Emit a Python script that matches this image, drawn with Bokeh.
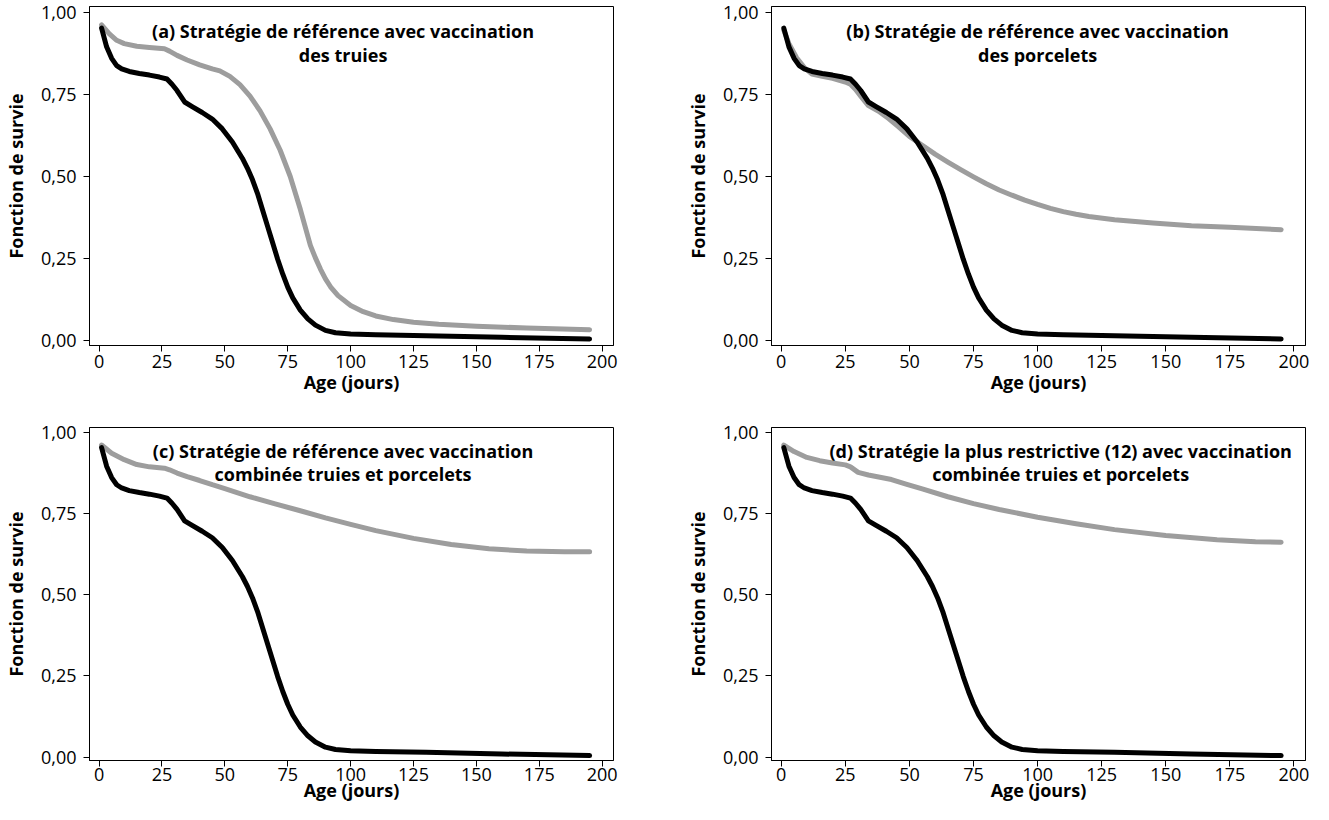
from bokeh.plotting import figure
from bokeh.layouts import column, row
from bokeh.models import FixedTicker, Range1d
from bokeh.core.properties import value
from bokeh.embed import file_html
from bokeh.resources import INLINE

# ---- data ----
# reference strategy without vaccination (black, identical in all panels)
age_ref = [1, 3, 5, 7, 9, 12, 16, 20, 24, 27, 29, 31, 34, 37, 41, 45, 49, 53, 57,
           59, 61, 63, 65, 67, 69, 71, 73, 75, 77, 80, 83, 86, 90, 94, 100, 110,
           130, 160, 195]
surv_ref = [0.952, 0.895, 0.860, 0.838, 0.828, 0.820, 0.814, 0.809, 0.803, 0.797,
            0.781, 0.762, 0.727, 0.713, 0.695, 0.675, 0.645, 0.605, 0.555,
            0.525, 0.490, 0.448, 0.398, 0.348, 0.298, 0.248, 0.203, 0.163, 0.130,
            0.093, 0.066, 0.047, 0.031, 0.024, 0.020, 0.018, 0.015, 0.010, 0.005]

# (a) vaccination des truies
age_a = [1, 4, 7, 10, 15, 20, 26, 28, 31, 35, 40, 45, 48, 52, 56, 60, 64, 68, 72,
         76, 80, 84, 86, 88, 90, 92, 95, 100, 105, 110, 117, 125, 135, 150, 170, 195]
surv_a = [0.962, 0.935, 0.915, 0.905, 0.897, 0.893, 0.889, 0.882, 0.869, 0.855,
          0.840, 0.828, 0.822, 0.805, 0.780, 0.745, 0.700, 0.645, 0.580, 0.500,
          0.400, 0.290, 0.252, 0.218, 0.188, 0.164, 0.137, 0.107, 0.088, 0.075,
          0.064, 0.056, 0.050, 0.044, 0.038, 0.033]

# (b) vaccination des porcelets
age_b = [1, 3, 6, 9, 12, 16, 20, 25, 27, 29, 31, 34, 38, 42, 46, 50, 55, 60, 65,
         70, 75, 80, 85, 90, 95, 100, 105, 110, 115, 120, 130, 145, 160, 175, 195]
surv_b = [0.946, 0.905, 0.862, 0.832, 0.812, 0.805, 0.799, 0.788, 0.781, 0.765,
          0.745, 0.716, 0.699, 0.676, 0.650, 0.622, 0.595, 0.568, 0.544, 0.521,
          0.499, 0.478, 0.459, 0.443, 0.428, 0.415, 0.403, 0.393, 0.385, 0.378,
          0.368, 0.358, 0.350, 0.345, 0.338]

# (c) vaccination combinée, stratégie de référence
age_c = [1, 5, 10, 15, 20, 26, 28, 31, 35, 40, 45, 50, 60, 70, 80, 90, 100, 110,
         125, 140, 155, 170, 185, 195]
surv_c = [0.960, 0.935, 0.915, 0.900, 0.893, 0.889, 0.884, 0.874, 0.863, 0.851,
          0.838, 0.826, 0.801, 0.779, 0.758, 0.736, 0.716, 0.697, 0.673, 0.654,
          0.641, 0.634, 0.632, 0.632]

# (d) vaccination combinée, stratégie la plus restrictive
age_d = [1, 5, 10, 15, 20, 25, 27, 30, 34, 38, 43, 49, 55, 65, 75, 85, 100, 115,
         130, 150, 170, 185, 195]
surv_d = [0.960, 0.940, 0.922, 0.912, 0.905, 0.899, 0.893, 0.876, 0.868, 0.862,
          0.854, 0.839, 0.825, 0.801, 0.780, 0.762, 0.738, 0.718, 0.700, 0.682,
          0.669, 0.663, 0.661]

titles = [
    ("(a) Stratégie de référence avec vaccination", "des truies"),
    ("(b) Stratégie de référence avec vaccination", "des porcelets"),
    ("(c) Stratégie de référence avec vaccination", "combinée truies et porcelets"),
    ("(d) Stratégie la plus restrictive (12) avec vaccination", "combinée truies et porcelets"),
]
title_x = [97, 100, 97, 109]

x_ticks = [0, 25, 50, 75, 100, 125, 150, 175, 200]
y_ticks = [0, 0.25, 0.5, 0.75, 1.0]
y_tick_labels = ["0,00", "0,25", "0,50", "0,75", "1,00"]
x_label = "Age (jours)"
y_label = "Fonction de survie"

FONT = "Open Sans"
GREY = "#9d9d9d"


def panel(age_v, surv_v, title, tx, width, height, mb_left, mb_right, mb_top,
          mb_bottom, yr, x_std, x_lab_std):
    p = figure(width=width, height=height, output_backend="svg",
               toolbar_location=None, tools="",
               x_range=Range1d(-3.8, 204.5), y_range=Range1d(*yr),
               min_border_left=mb_left, min_border_right=mb_right,
               min_border_top=mb_top, min_border_bottom=mb_bottom)
    p.background_fill_color = "white"
    p.border_fill_color = "white"
    p.outline_line_color = "black"
    p.outline_line_width = 1
    p.xgrid.visible = False
    p.ygrid.visible = False

    p.line(age_v, surv_v, line_color=GREY, line_width=5, line_cap="round",
           line_join="round")
    p.line(age_ref, surv_ref, line_color="black", line_width=5, line_cap="round",
           line_join="round")

    p.text(x=[tx, tx], y=[0.942, 0.870], text=list(title),
           text_font=value(FONT), text_font_style="bold", text_font_size="18px",
           text_align="center", text_baseline="alphabetic", text_color="black")

    xa = p.xaxis[0]
    xa.ticker = FixedTicker(ticks=x_ticks)
    xa.axis_label = x_label
    ya = p.yaxis[0]
    ya.ticker = FixedTicker(ticks=y_ticks)
    ya.major_label_overrides = {t: s for t, s in zip(y_ticks, y_tick_labels)}
    ya.axis_label = y_label
    for ax in (xa, ya):
        ax.axis_line_color = "black"
        ax.major_tick_line_color = "black"
        ax.major_tick_out = 6
        ax.major_tick_in = 0
        ax.minor_tick_line_color = None
        ax.major_label_text_font = FONT
        ax.major_label_text_font_size = "18px"
        ax.major_label_text_color = "black"
        ax.axis_label_text_font = FONT
        ax.axis_label_text_font_style = "bold"
        ax.axis_label_text_font_size = "18px"
        ax.axis_label_text_color = "black"
    xa.major_label_standoff = x_std
    xa.axis_label_standoff = x_lab_std
    ya.major_label_standoff = 7
    ya.axis_label_standoff = 10
    return p


yr1 = (-0.015, 1.018)
yr2 = (-0.010, 1.014)
pa = panel(age_a, surv_a, titles[0], title_x[0], 652, 412, 79, 39, 6, 67, yr1, 3, -1)
pb = panel(age_b, surv_b, titles[1], title_x[1], 661, 412, 119, 8, 6, 67, yr1, 3, -1)
pc = panel(age_c, surv_c, titles[2], title_x[2], 652, 392, 79, 39, 15, 30, yr2, 1, -6)
pd = panel(age_d, surv_d, titles[3], title_x[3], 661, 392, 119, 8, 15, 30, yr2, 1, -6)

layout = column(row(pa, pb), row(pc, pd))

open("out.html", "w").write(file_html(layout, INLINE))
